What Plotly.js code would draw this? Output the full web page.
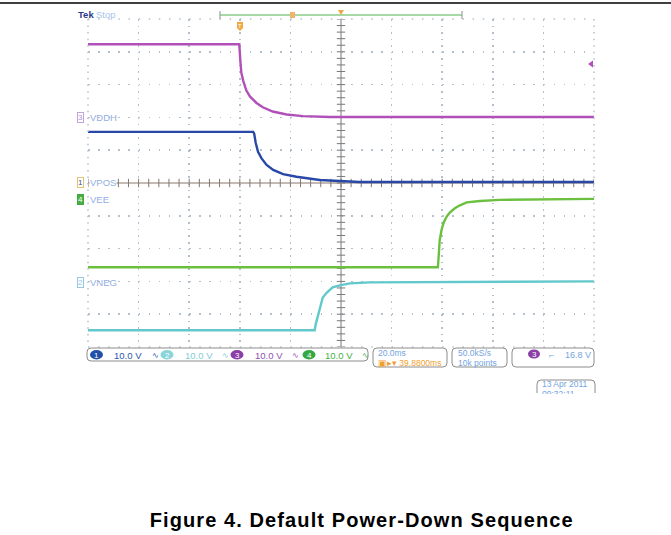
<!DOCTYPE html>
<html>
<head>
<meta charset="utf-8">
<script src="https://cdn.plot.ly/plotly-3.0.1.min.js"></script>
<style>
  html, body { margin: 0; padding: 0; background: #fff; }
  #wrap { position: relative; width: 671px; height: 535px; }
  #chart { position: absolute; left: 0; top: 0; width: 671px; height: 535px; }
  #cut { position: absolute; left: 530px; top: 394px; width: 80px; height: 12px; background: #fff; }
</style>
</head>
<body>
<div id="wrap"><div id="chart"></div><div id="cut"></div></div>
<script>
// ---- data (time in ms relative to trigger, voltage in V) ----
const channelNames = ['VDDH', 'VPOS', 'VEE', 'VNEG'];
const channelNumbers = ['3', '1', '4', '2'];
const voltsPerDiv = [10, 10, 10, 10];      // per channel (VDDH, VPOS, VEE, VNEG)
const groundDiv = [2, 0, -0.5, -3];        // channel position in divisions

const tVddh = [-60, -0.2, 0.2, 0.6, 1.3, 2.6, 4.0, 6.6, 9.1, 13.0, 18.5, 24.9, 35.6, 140];
const vVddh = [22.3, 22.3, 17.4, 13.7, 11.3, 8.2, 6.4, 4.4, 3.1, 1.8, 0.9, 0.4, 0.1, 0.1];

const tVpos = [-60, 5.3, 5.7, 6.3, 7.2, 8.6, 10.6, 13.2, 17.1, 22.4, 31.6, 47.4, 140];
const vVpos = [15.6, 15.6, 15.0, 12.2, 9.5, 7.5, 5.5, 4.0, 2.7, 1.9, 0.9, 0.3, 0.3];

const tVee = [-60, 78.3, 78.7, 79.0, 79.8, 80.6, 81.8, 83.0, 85.0, 87.0, 89.7, 94.9, 102.8, 140];
const vVee = [-20.7, -20.7, -16.2, -12.5, -9.1, -7.0, -5.2, -4.0, -2.7, -1.8, -0.9, -0.5, -0.15, 0.15];

const tVneg = [-60, 29.6, 30.0, 30.8, 31.6, 32.8, 34.4, 36.7, 39.5, 43.5, 51.4, 83.0, 140];
const vVneg = [-14.9, -14.9, -13.1, -10.7, -7.6, -4.9, -3.4, -1.8, -1.2, -0.6, -0.3, -0.15, 0];

const scaleLabels = ['10.0 V', '10.0 V', '10.0 V', '10.0 V'];  // ch1..ch4
const timeBase = '20.0ms';
const delayLabel = '39.8800ms';
const sampleRate = '50.0kS/s';
const recordLen = '10k points';
const triggerLevel = '16.8 V';
const dateLabel = '13 Apr 2011';
const timeLabel = '09:32:11';
const caption = 'Figure 4. Default Power-Down Sequence';

// ---- geometry helpers (pixel -> paper) ----
const L = 88, T = 19, W = 506, H = 328;
const px = p => (p - L) / W;
const py = p => (T + H - p) / H;
const FONT = 'Liberation Sans, Arial, sans-serif';

const colVddh = '#b050b8', colVpos = '#2848a8', colVee = '#6cc040', colVneg = '#62c8cc';
const colLbl = '#94aee4';

function toDiv(vals, i) { return vals.map(v => groundDiv[i] + v / voltsPerDiv[i]); }

const traces = [];
// graticule crosshair ticks
const hx = [], hy = [], vx = [], vy = [];
for (let k = 0; k <= 50; k++) { hx.push(-60 + 4 * k); hy.push(0); }
for (let k = 0; k <= 50; k++) { vx.push(40); vy.push(-5 + 0.2 * k); }
traces.push({x: hx, y: hy, mode: 'markers', hoverinfo: 'skip', showlegend: false,
  marker: {symbol: 'line-ns', size: 6, line: {width: 1, color: '#8a7468'}}});
traces.push({x: vx, y: vy, mode: 'markers', hoverinfo: 'skip', showlegend: false,
  marker: {symbol: 'line-ew', size: 6, line: {width: 1, color: '#787878'}}});

traces.push({x: tVee, y: toDiv(vVee, 2), mode: 'lines', line: {color: colVee, width: 2.4}, showlegend: false});
traces.push({x: tVneg, y: toDiv(vVneg, 3), mode: 'lines', line: {color: colVneg, width: 2.4}, showlegend: false});
traces.push({x: tVpos, y: toDiv(vVpos, 1), mode: 'lines', line: {color: colVpos, width: 2.4}, showlegend: false});
traces.push({x: tVddh, y: toDiv(vVddh, 0), mode: 'lines', line: {color: colVddh, width: 2.4}, showlegend: false});

// ---- shapes ----
const shapes = [];
const dotV = '1.5px,5.06px', dotH = '1.5px,8.62px', gridCol = '#b4c0cc';
shapes.push({type: 'line', xref: 'paper', yref: 'paper', x0: 0, x1: 1, y0: 1, y1: 1, line: {color: gridCol, width: 1.5, dash: dotH}});
shapes.push({type: 'line', xref: 'paper', yref: 'paper', x0: 0, x1: 1, y0: 0, y1: 0, line: {color: gridCol, width: 1.5, dash: dotH}});
shapes.push({type: 'line', xref: 'paper', yref: 'paper', x0: 0, x1: 0, y0: 1, y1: 0, line: {color: gridCol, width: 1.5, dash: dotV}});
shapes.push({type: 'line', xref: 'paper', yref: 'paper', x0: 1, x1: 1, y0: 1, y1: 0, line: {color: gridCol, width: 1.5, dash: dotV}});
shapes.push({type: 'line', xref: 'x', yref: 'y', x0: -60, x1: 140, y0: 0, y1: 0, layer: 'below', line: {color: '#8a7468', width: 1}});
shapes.push({type: 'line', xref: 'x', yref: 'y', x0: 40, x1: 40, y0: -5, y1: 5, layer: 'below', line: {color: '#787878', width: 1}});
shapes.push({type: 'line', xref: 'paper', yref: 'paper', x0: px(0), x1: px(671), y0: py(3), y1: py(3), line: {color: '#000', width: 1.5}});
shapes.push({type: 'line', xref: 'paper', yref: 'paper', x0: px(220), x1: px(462), y0: py(15), y1: py(15), line: {color: '#88cc88', width: 1.5}});
shapes.push({type: 'line', xref: 'paper', yref: 'paper', x0: px(220), x1: px(220), y0: py(11), y1: py(19), line: {color: '#909090', width: 1}});
shapes.push({type: 'line', xref: 'paper', yref: 'paper', x0: px(462), x1: px(462), y0: py(11), y1: py(19), line: {color: '#909090', width: 1}});
shapes.push({type: 'rect', xref: 'paper', yref: 'paper', x0: px(290), x1: px(295), y0: py(12), y1: py(18), fillcolor: '#f2b468', line: {width: 0}});
shapes.push({type: 'path', xref: 'paper', yref: 'paper', fillcolor: '#f2a840', line: {width: 0},
  path: `M${px(338)},${py(10)} L${px(344)},${py(10)} L${px(341)},${py(15)} Z`});
shapes.push({type: 'path', xref: 'paper', yref: 'paper', fillcolor: '#f2a840', line: {width: 0},
  path: `M${px(237)},${py(22)} L${px(243)},${py(22)} L${px(243)},${py(28)} L${px(240)},${py(31)} L${px(237)},${py(28)} Z`});
shapes.push({type: 'path', xref: 'paper', yref: 'paper', fillcolor: colVddh, line: {width: 0},
  path: `M${px(588)},${py(64)} L${px(593)},${py(60.5)} L${px(593)},${py(67.5)} Z`});

function rr(x0, y0, x1, y1, r, openBottom) {
  let p = `M${px(x0)},${py(y0 + r)} Q${px(x0)},${py(y0)} ${px(x0 + r)},${py(y0)} L${px(x1 - r)},${py(y0)} Q${px(x1)},${py(y0)} ${px(x1)},${py(y0 + r)}`;
  if (openBottom) return p + ` L${px(x1)},${py(y1)} M${px(x0)},${py(y1)} L${px(x0)},${py(y0 + r)}`;
  return p + ` L${px(x1)},${py(y1 - r)} Q${px(x1)},${py(y1)} ${px(x1 - r)},${py(y1)} L${px(x0 + r)},${py(y1)} Q${px(x0)},${py(y1)} ${px(x0)},${py(y1 - r)} Z`;
}
const boxCol = '#8c8c8c';
shapes.push({type: 'path', xref: 'paper', yref: 'paper', path: rr(87, 348, 368, 361, 4), line: {color: boxCol, width: 1}});
shapes.push({type: 'path', xref: 'paper', yref: 'paper', path: rr(373, 348, 447, 367, 4), line: {color: boxCol, width: 1}});
shapes.push({type: 'path', xref: 'paper', yref: 'paper', path: rr(452, 348, 507, 367, 4), line: {color: boxCol, width: 1}});
shapes.push({type: 'path', xref: 'paper', yref: 'paper', path: rr(512, 348, 594, 367, 4), line: {color: boxCol, width: 1}});
shapes.push({type: 'path', xref: 'paper', yref: 'paper', path: rr(537, 380, 595, 393, 4, true), line: {color: boxCol, width: 1}});

const ovalFill = ['#2050a8', '#8ad4da', '#8a3ea8', '#34a844'];
const ovalX = [96.5, 167, 237, 309];
const textCol = ['#2a55b0', '#86ccd8', '#9050b0', '#44b040'];
const textX = [112, 183, 253, 323];
const iconX = [153, 223, 293, 363];
const annotations = [];
function ann(text, x, y, o) {
  return Object.assign({text: text, xref: 'paper', yref: 'paper', x: px(x), y: py(y), xanchor: 'left', yanchor: 'middle',
    showarrow: false, font: {family: FONT, size: 9, color: colLbl}}, o || {});
}
for (let i = 0; i < 4; i++) {
  shapes.push({type: 'circle', xref: 'paper', yref: 'paper', x0: px(ovalX[i] - 6.5), x1: px(ovalX[i] + 6.5),
    y0: py(350), y1: py(359.5), fillcolor: ovalFill[i], line: {width: 0}});
  annotations.push(ann(String(i + 1), ovalX[i], 355, {xanchor: 'center', font: {family: FONT, size: 8, color: '#ffffff'}}));
  annotations.push(ann(scaleLabels[i], textX[i], 355, {font: {family: FONT, size: 9.5, color: textCol[i]}}));
  annotations.push(ann('∿', iconX[i] - 3, 355, {font: {family: FONT, size: 8, color: textCol[i]}}));
}
annotations.push(ann(timeBase, 376, 352.5, {font: {family: FONT, size: 8.5, color: '#74a4e0'}}));
annotations.push(ann('▣▸▾ ' + delayLabel, 376, 362.5, {font: {family: FONT, size: 8.5, color: '#f0a030'}}));
annotations.push(ann(sampleRate, 456, 352.5, {font: {family: FONT, size: 8.5, color: '#74a4e0'}}));
annotations.push(ann(recordLen, 456, 362.5, {font: {family: FONT, size: 8.5, color: '#74a4e0'}}));
shapes.push({type: 'circle', xref: 'paper', yref: 'paper', x0: px(528), x1: px(540), y0: py(349.5), y1: py(358.5), fillcolor: '#8a3ea8', line: {width: 0}});
annotations.push(ann('3', 534, 354.5, {xanchor: 'center', font: {family: FONT, size: 8, color: '#fff'}}));
annotations.push(ann('⌐', 547, 354.5, {font: {family: FONT, size: 9, color: '#74a4e0'}}));
annotations.push(ann(triggerLevel, 563, 354.5, {font: {family: FONT, size: 9, color: '#74a4e0'}}));
annotations.push(ann(dateLabel, 540, 384, {font: {family: FONT, size: 8.5, color: '#74a4e0'}}));
annotations.push(ann(timeLabel, 540, 393.5, {font: {family: FONT, size: 8.5, color: '#74a4e0'}}));

annotations.push(ann('<b>Tek</b>', 76, 14, {font: {family: FONT, size: 9.5, color: '#2a3a8a'}}));
annotations.push(ann('Stop', 94, 14, {font: {family: FONT, size: 9.5, color: '#a4c2ea'}}));
annotations.push(ann('T', 240, 26, {xanchor: 'center', font: {family: FONT, size: 6, color: '#ffffff'}}));

const markerY = [117, 182.5, 199, 282];
const markerBorder = ['#c4a4dc', '#e4c46c', '#40a840', '#94c8e4'];
const markerText = ['#b090d0', '#3050a0', '#ffffff', '#94c4e4'];
const markerBg = ['#ffffff', '#ffffff', '#48b040', '#ffffff'];
for (let i = 0; i < 4; i++) {
  annotations.push(ann(channelNumbers[i], 80.5, markerY[i], {xanchor: 'center', bgcolor: markerBg[i], bordercolor: markerBorder[i],
    borderwidth: 1, borderpad: 0, font: {family: FONT, size: 8, color: markerText[i]}}));
  annotations.push(ann(channelNames[i], 88.5, markerY[i], {bgcolor: i === 1 ? '#ffffff' : 'rgba(0,0,0,0)', borderpad: 0,
    font: {family: FONT, size: 9.5, color: colLbl}}));
}

annotations.push({text: '<b>' + caption + '</b>', xref: 'paper', yref: 'paper', x: px(361), y: py(520),
  xanchor: 'center', yanchor: 'middle', showarrow: false, font: {family: FONT, size: 20, color: '#000'}});

const layout = {
  width: 671, height: 535,
  margin: {l: L, r: 671 - L - W, t: T, b: 535 - T - H, pad: 0},
  paper_bgcolor: '#ffffff', plot_bgcolor: '#ffffff',
  showlegend: false,
  xaxis: {range: [-60, 140], tick0: -60, dtick: 20, showgrid: true, gridcolor: gridCol, gridwidth: 1.5, griddash: dotV,
    zeroline: false, showline: false, ticks: '', showticklabels: false, fixedrange: true},
  yaxis: {range: [-5, 5], tick0: -5, dtick: 1, showgrid: true, gridcolor: gridCol, gridwidth: 1.5, griddash: dotH,
    zeroline: false, showline: false, ticks: '', showticklabels: false, fixedrange: true},
  shapes: shapes,
  annotations: annotations
};

Plotly.newPlot('chart', traces, layout, {displayModeBar: false, staticPlot: true}).then(() => {
  document.querySelectorAll('.annotation-text').forEach(el => {
    if (el.textContent === caption) el.setAttribute('letter-spacing', '1.1');
  });
});
</script>
</body>
</html>
